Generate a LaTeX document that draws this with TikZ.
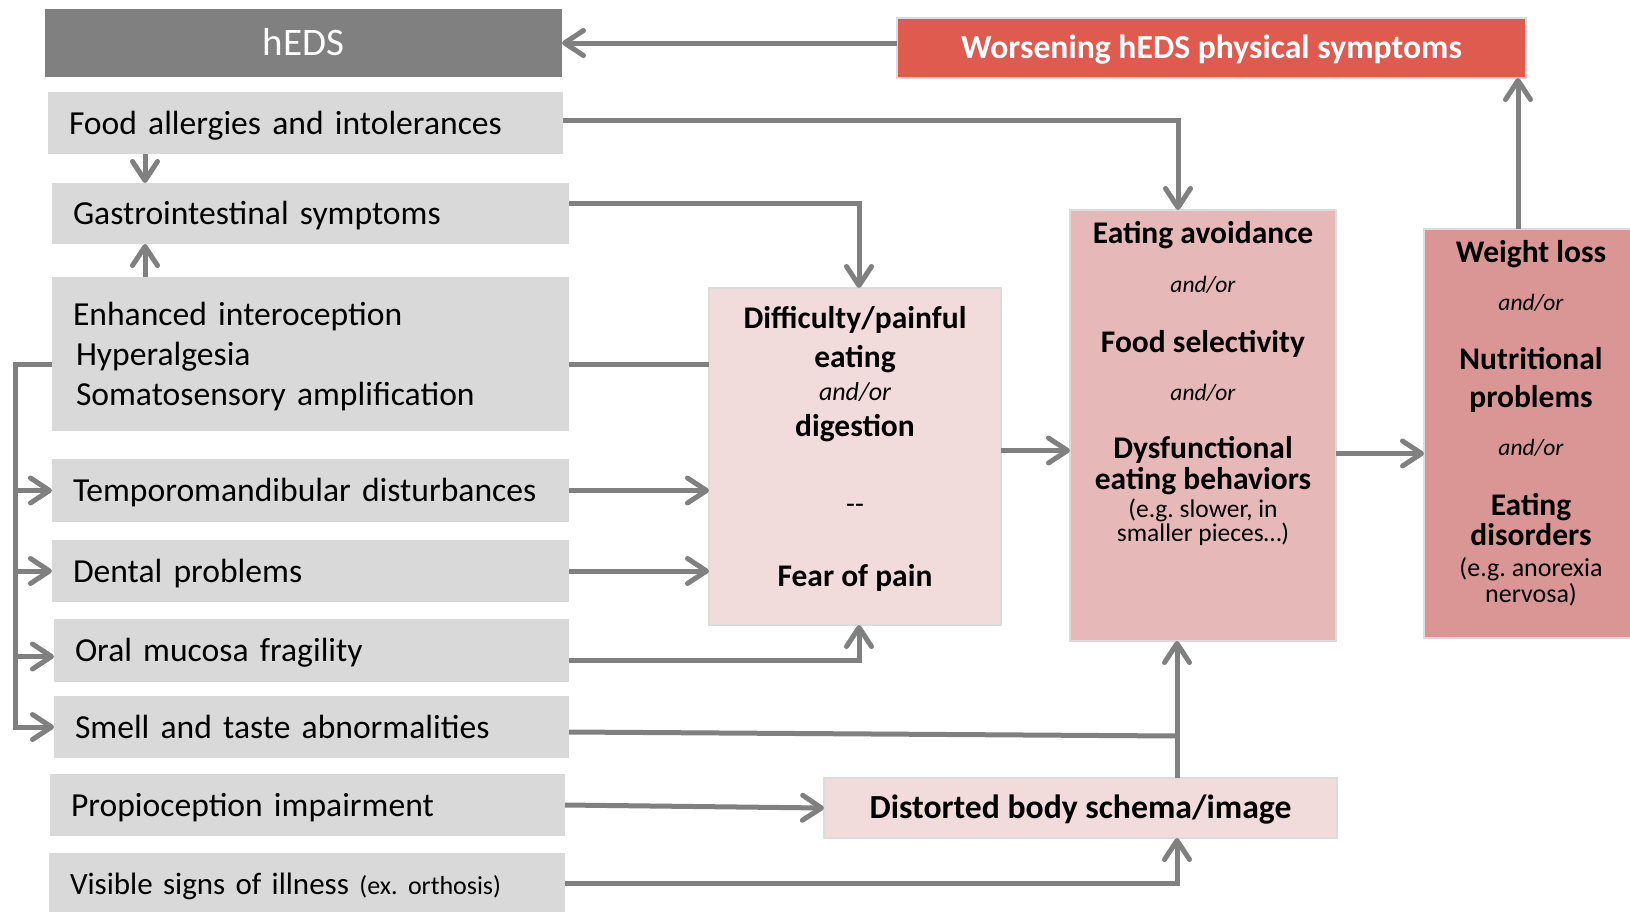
\documentclass[tikz,border=0pt]{standalone}
\usepackage{fontspec}
\setmainfont{Carlito}
\usetikzlibrary{arrows.meta}
\definecolor{hedsgray}{HTML}{808080}
\definecolor{boxgray}{HTML}{D9D9D9}
\definecolor{worsred}{HTML}{DF5A4F}
\definecolor{pinkA}{HTML}{F2DCDB}
\definecolor{pinkB}{HTML}{E6B9B8}
\definecolor{pinkC}{HTML}{D99694}
\definecolor{arrgray}{HTML}{808080}
\definecolor{edgegray}{HTML}{DCDCDC}
\newcommand\szL{\fontsize{33.6pt}{40pt}\selectfont}
\newcommand\szT{\fontsize{33.7pt}{40pt}\selectfont\bfseries}
\newcommand\szB{\fontsize{31.5pt}{38pt}\selectfont\bfseries}
\newcommand\szI{\fontsize{23.5pt}{28pt}\selectfont\itshape}
\newcommand\szS{\fontsize{25.5pt}{30pt}\selectfont}
\frenchspacing
\begin{document}
\begin{tikzpicture}[x=1pt,y=-1pt,
  lbox/.style={fill=boxgray, anchor=north west, inner xsep=21pt, inner ysep=0pt, outer sep=0pt,
    align=left, font=\szL, text height=30pt, text depth=8pt},
  pbox/.style={draw=edgegray, line width=1.5pt, anchor=north west, inner sep=0pt, outer sep=0pt},
  tl/.style={anchor=base, inner sep=0pt},
  conn/.style={draw=arrgray, line width=5pt},
  arr/.style={conn, -{Straight Barb[length=19pt,width=25pt,round]}}]
\fill[white] (0,0) rectangle (1630,911);
\useasboundingbox (0,0) rectangle (1630,911);

% top boxes
\node[fill=hedsgray, anchor=north west, minimum width=517pt, minimum height=68pt, inner sep=0pt, outer sep=0pt,
  text=white, font=\fontsize{39pt}{46pt}\selectfont, text height=25pt, text depth=0pt] (heds) at (45,9) {hEDS};
\node[pbox, fill=worsred, line width=2pt, minimum width=629pt, minimum height=60pt, text=white, font=\szT,
  text height=21pt, text depth=0pt] (wors) at (897,18) {Worsening hEDS physical symptoms};

% left boxes
\node[lbox, minimum height=62pt, text width=473pt] (food) at (48,92) {Food allergies and intolerances};
\node[lbox, minimum height=61pt, text width=475pt] (gi) at (52,183) {Gastrointestinal symptoms};
\node[lbox, minimum height=154pt, text width=475pt, text depth=88pt] (enh) at (52,277)
  {Enhanced interoception\\\hspace*{3pt}Hyperalgesia\\\hspace*{3pt}Somatosensory amplification};
\node[lbox, minimum height=63pt, text width=475pt] (temp) at (52,459) {Temporomandibular disturbances};
\node[lbox, minimum height=62pt, text width=475pt] (dent) at (52,540) {Dental problems};
\node[lbox, minimum height=63pt, text width=473pt] (oral) at (54,619) {Oral mucosa fragility};
\node[lbox, minimum height=62pt, text width=473pt] (smell) at (54,696) {Smell and taste abnormalities};
\node[lbox, minimum height=62pt, text width=473pt] (prop) at (50,774) {Propioception impairment};
\node[lbox, minimum height=61pt, text width=474pt, font=\fontsize{31pt}{37pt}\selectfont] (vis) at (49,853)
  {Visible signs of illness {\fontsize{26pt}{30pt}\selectfont(ex. orthosis)}};

% pink boxes
\node[pbox, fill=pinkA, minimum width=292pt, minimum height=337pt] (diff) at (709,288) {};
\node[pbox, fill=pinkB, minimum width=266pt, minimum height=431pt] (eat) at (1070,210) {};
\node[pbox, fill=pinkC, minimum width=216pt, minimum height=409pt] (wt) at (1424,229) {};
\node[pbox, fill=pinkA, minimum width=513pt, minimum height=60pt, font=\szT, text height=21pt, text depth=0pt]
  (dist) at (824,778) {Distorted body schema/image};

% texts in difficulty box
\node[tl, font=\szB] (d1) at (855,328) {Difficulty/painful};
\node[tl, font=\szB] (d2) at (855,367) {eating};
\node[tl, font=\fontsize{26pt}{30pt}\selectfont\itshape] (d3) at (855,400) {and/or};
\node[tl, font=\szB] (d4) at (855,436) {digestion};
\node[tl, font=\fontsize{29pt}{34pt}\selectfont] (d5) at (855,513) {{-}{-}};
\node[tl, font=\szB] (d6) at (855,586) {Fear of pain};

% texts in eating box
\node[tl, font=\szB] (e1) at (1203,243) {Eating avoidance};
\node[tl, font=\szI] (e2) at (1203,292) {and/or};
\node[tl, font=\szB] (e3) at (1203,352) {Food selectivity};
\node[tl, font=\szI] (e4) at (1203,400) {and/or};
\node[tl, font=\szB] (e5) at (1203,458) {Dysfunctional};
\node[tl, font=\szB] (e6) at (1203,489) {eating behaviors};
\node[tl, font=\szS] (e7) at (1203,517) {(e.g. slower, in};
\node[tl, font=\szS] (e8) at (1203,541) {smaller pieces…)};

% texts in weight box
\node[tl, font=\szB] (w1) at (1531,262) {Weight loss};
\node[tl, font=\szI] (w2) at (1531,310) {and/or};
\node[tl, font=\szB] (w3) at (1531,369) {Nutritional};
\node[tl, font=\szB] (w4) at (1531,407) {problems};
\node[tl, font=\szI] (w5) at (1531,455) {and/or};
\node[tl, font=\szB] (w6) at (1531,515) {Eating};
\node[tl, font=\szB] (w7) at (1531,545) {disorders};
\node[tl, font=\fontsize{26pt}{30pt}\selectfont] (w8) at (1531,576) {(e.g. anorexia};
\node[tl, font=\fontsize{26pt}{30pt}\selectfont] (w9) at (1531,602) {nervosa)};

% helper coordinates
\coordinate (bk) at (15,727);
\coordinate (enhin) at ([yshift=-10pt]enh.west);
\coordinate (oralin) at ([yshift=-6pt]oral.west);
\coordinate (foodout) at ([yshift=3pt]food.east);
\coordinate (eatin) at ([xshift=-25pt]eat.north);
\coordinate (giout) at ([yshift=10.5pt]gi.east);
\coordinate (diffin) at ([xshift=4pt]diff.north);
\coordinate (enhout) at ([yshift=-10pt]enh.east);
\coordinate (oralout) at ([yshift=-10pt]oral.east);
\coordinate (diffbot) at ([xshift=4pt]diff.south);
\coordinate (vx) at ([xshift=-26pt]eat.south);
\coordinate (smellout) at ([yshift=-5pt]smell.east);
\coordinate (joinpt) at ([yshift=-95pt]vx);
\coordinate (diffout) at ([yshift=6pt]diff.east);
\coordinate (eatout) at ([yshift=-28pt]eat.east);
\coordinate (wtout) at ([xshift=-14pt]wt.north);
\coordinate (gx) at (145,0);

% connectors
\draw[arr] (wors.west |- heds.east) -- (heds.east);
\draw[arr] (food.south -| gx) -- (gi.north -| gx);
\draw[arr] (enh.north -| gx) -- (gi.south -| gx);
\draw[arr] (enhin) -| (bk) -- (smell.west);
\draw[arr] (temp.west -| bk) -- (temp.west);
\draw[arr] (dent.west -| bk) -- (dent.west);
\draw[arr] (oralin -| bk) -- (oralin);
\draw[arr] (foodout) -| (eatin);
\draw[arr] (giout) -| (diffin);
\draw[conn] (enhout) -- (enhout -| diff.west);
\draw[arr] (temp.east) -- (temp.east -| diff.west);
\draw[arr] (dent.east) -- (dent.east -| diff.west);
\draw[arr] (oralout) -| (diffbot);
\draw[conn] (smellout) -- (joinpt);
\draw[arr] (dist.north -| vx) -- (vx);
\draw[arr] (prop.east) -- (dist.west);
\draw[arr] (vis.east) -| (dist.south -| vx);
\draw[arr] (diffout) -- (diffout -| eat.west);
\draw[arr] (eatout) -- (eatout -| wt.west);
\draw[arr] (wtout) -- (wtout |- wors.south);
\end{tikzpicture}
\end{document}
